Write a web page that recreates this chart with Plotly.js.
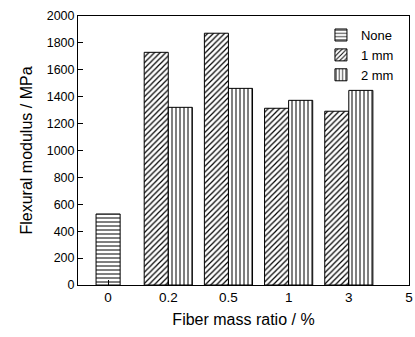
<!DOCTYPE html>
<html>
<head>
<meta charset="utf-8">
<script src="https://cdn.plot.ly/plotly-3.0.1.min.js"></script>
<style>html,body{margin:0;padding:0;background:#fff;}#chart{width:415px;height:337px;}</style>
</head>
<body>
<div id="chart"></div>
<script>
const categories = ['0', '0.2', '0.5', '1', '3', '5'];
const seriesNames = ['None', '1 mm', '2 mm'];
const noneValues = [528, null, null, null, null, null];
const oneMmValues = [null, 1730, 1872, 1314, 1292, null];
const twoMmValues = [null, 1321, 1462, 1373, 1447, null];
const yTicks = [0, 200, 400, 600, 800, 1000, 1200, 1400, 1600, 1800, 2000];

const font = '"Liberation Sans", Arial, sans-serif';
function barTrace(name, vals, shape, size, solidity, offset) {
  return {
    type: 'bar', name: name, x: categories, y: vals,
    width: 0.4, offset: offset,
    marker: {
      color: 'white',
      line: {color: 'black', width: 1},
      pattern: {shape: shape, fgcolor: 'black', bgcolor: 'white', size: size, solidity: solidity, fillmode: 'replace'}
    },
    hoverinfo: 'skip'
  };
}
const data = [
  barTrace(seriesNames[0], noneValues, '-', 4, 0.25, -0.2),
  barTrace(seriesNames[1], oneMmValues, '/', 4, 0.3, -0.4),
  barTrace(seriesNames[2], twoMmValues, '|', 4, 0.25, 0)
];
const layout = {
  width: 415, height: 337,
  margin: {l: 78, r: 6, t: 16, b: 52},
  paper_bgcolor: 'white', plot_bgcolor: 'white',
  barmode: 'overlay',
  font: {family: font, color: 'black', size: 13},
  showlegend: true,
  legend: {x: 0.734, y: 0.985, xanchor: 'left', yanchor: 'top', bgcolor: 'rgba(0,0,0,0)', font: {size: 13, family: font}, tracegroupgap: 0},
  xaxis: {
    type: 'category', range: [-0.5, 5],
    showline: true, linecolor: 'black', linewidth: 1, mirror: true,
    ticks: 'inside', ticklen: 5, tickcolor: 'black',
    showgrid: false, zeroline: false,
    tickfont: {size: 13.5, family: font},
    title: {text: 'Fiber mass ratio / %', font: {size: 16, family: font}, standoff: 9}
  },
  yaxis: {
    range: [0, 2000], tickvals: yTicks,
    showline: true, linecolor: 'black', linewidth: 1, mirror: true,
    ticks: 'inside', ticklen: 5, tickcolor: 'black',
    showgrid: false, zeroline: false,
    tickfont: {size: 12.5, family: font},
    title: {text: 'Flexural modulus / MPa', font: {size: 16, family: font}, standoff: 10}
  }
};
Plotly.newPlot('chart', data, layout, {displayModeBar: false, staticPlot: true});
</script>
</body>
</html>
